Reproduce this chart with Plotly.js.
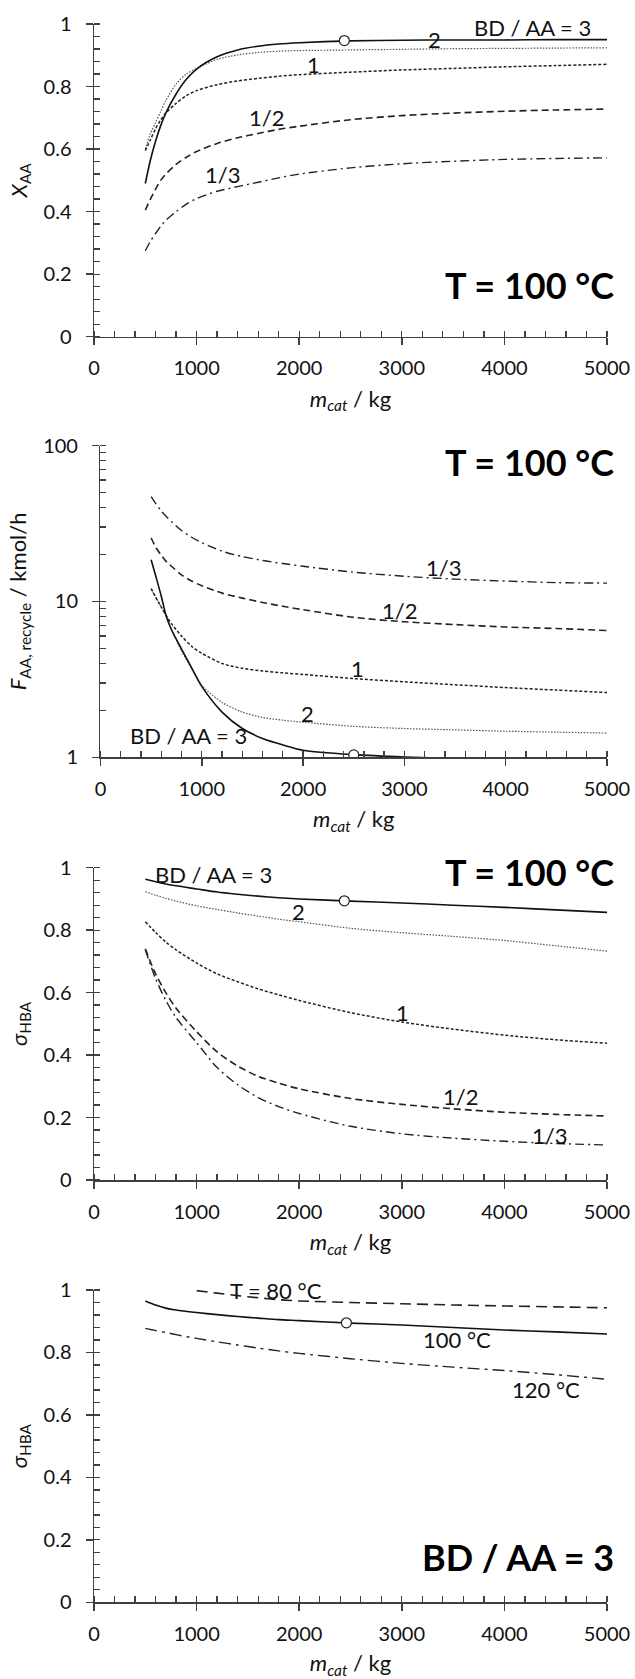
<!DOCTYPE html>
<html>
<head>
<meta charset="utf-8">
<script src="https://cdn.plot.ly/plotly-3.0.1.min.js"></script>
<style>
html,body{margin:0;padding:0;background:#fff;}
#chart{width:635px;height:1679px;}
</style>
</head>
<body>
<div id="chart"></div>
<script>
// ---------- data ----------
const mcatA = [500, 550, 600, 650, 700, 800, 900, 1000, 1200, 1400, 1600, 1800, 2000, 2500, 3000, 3500, 4000, 4500, 5000];
// Panel 1: X_AA at T = 100 °C
const xaa_r3  = [0.49, 0.565, 0.625, 0.675, 0.715, 0.776, 0.823, 0.856, 0.895, 0.917, 0.929, 0.936, 0.94, 0.946, 0.948, 0.949, 0.949, 0.95, 0.95];
const xaa_r2  = [0.60, 0.65, 0.685, 0.72, 0.755, 0.808, 0.84, 0.858, 0.887, 0.901, 0.909, 0.913, 0.915, 0.917, 0.919, 0.921, 0.922, 0.923, 0.924];
const xaa_r1  = [0.595, 0.63, 0.665, 0.693, 0.715, 0.746, 0.771, 0.787, 0.806, 0.818, 0.826, 0.833, 0.838, 0.846, 0.853, 0.858, 0.863, 0.867, 0.871];
const xaa_r12 = [0.405, 0.44, 0.472, 0.50, 0.52, 0.551, 0.574, 0.592, 0.618, 0.636, 0.65, 0.663, 0.673, 0.694, 0.707, 0.715, 0.721, 0.725, 0.728];
const xaa_r13 = [0.275, 0.305, 0.33, 0.353, 0.372, 0.40, 0.424, 0.442, 0.465, 0.48, 0.494, 0.508, 0.52, 0.54, 0.553, 0.561, 0.567, 0.57, 0.572];
// Panel 2: F_AA,recycle / kmol/h at T = 100 °C
const frec_r3  = [18.5, 14.2, 10.8, 8.0, 6.6, 4.95, 3.75, 2.85, 1.95, 1.53, 1.32, 1.2, 1.11, 1.04, 1.005, 0.985, 0.975, 0.965, 0.955];
const frec_r2  = [12, 10.5, 9.2, 8.0, 6.6, 4.8, 3.7, 2.9, 2.25, 1.95, 1.8, 1.73, 1.68, 1.58, 1.53, 1.5, 1.47, 1.45, 1.43];
const frec_r1  = [12.1, 10.5, 9.2, 8.1, 7.2, 6.0, 5.15, 4.65, 4.0, 3.72, 3.58, 3.48, 3.4, 3.2, 3.05, 2.92, 2.8, 2.7, 2.6];
const frec_r12 = [25.5, 22, 19.8, 18, 16.8, 14.8, 13.5, 12.6, 11.3, 10.5, 9.85, 9.3, 8.85, 7.9, 7.4, 7.1, 6.85, 6.7, 6.5];
const frec_r13 = [47, 42, 38, 35, 32.5, 28.5, 25.8, 23.8, 21, 19.4, 18.3, 17.5, 16.8, 15.4, 14.5, 13.9, 13.5, 13.2, 13.1];
// Panel 3: sigma_HBA at T = 100 °C
const mcatB = [500, 600, 700, 800, 1000, 1200, 1400, 1600, 1800, 2000, 2500, 3000, 3500, 4000, 4500, 5000];
const sig_r3  = [0.963, 0.955, 0.948, 0.942, 0.932, 0.922, 0.915, 0.909, 0.904, 0.90, 0.893, 0.887, 0.88, 0.873, 0.865, 0.857];
const sig_r2  = [0.923, 0.912, 0.902, 0.893, 0.878, 0.866, 0.855, 0.845, 0.835, 0.827, 0.806, 0.792, 0.78, 0.767, 0.75, 0.733];
const sig_r1  = [0.827, 0.793, 0.762, 0.737, 0.695, 0.66, 0.635, 0.612, 0.593, 0.575, 0.536, 0.506, 0.483, 0.464, 0.449, 0.438];
const sig_r12 = [0.74, 0.66, 0.60, 0.55, 0.475, 0.41, 0.365, 0.332, 0.31, 0.292, 0.261, 0.242, 0.228, 0.217, 0.21, 0.205];
const sig_r13 = [0.737, 0.645, 0.575, 0.52, 0.44, 0.36, 0.305, 0.264, 0.235, 0.213, 0.172, 0.148, 0.134, 0.124, 0.117, 0.112];
// Panel 4: sigma_HBA at BD/AA = 3
const mcat80 = [1000, 1200, 1400, 1600, 1800, 2000, 2500, 3000, 3500, 4000, 4500, 5000];
const sig_T80  = [0.998, 0.99, 0.982, 0.975, 0.969, 0.965, 0.96, 0.956, 0.952, 0.949, 0.946, 0.943];
const sig_T100 = [0.965, 0.952, 0.942, 0.936, 0.928, 0.921, 0.915, 0.91, 0.905, 0.902, 0.894, 0.888, 0.88, 0.872, 0.866, 0.859];
const sig_T120 = [0.877, 0.87, 0.864, 0.857, 0.845, 0.834, 0.824, 0.814, 0.805, 0.797, 0.78, 0.765, 0.753, 0.742, 0.729, 0.714];
// highlighted operating points (open circles)
const opX = [2440, 2500, 2440, 2460];
const opY = [0.947, 1.035, 0.894, 0.895];
// curve labels
const ratioLabels = ['BD / AA = 3', '2', '1', '1/2', '1/3'];
const tempLabels = ['T = 80 °C', '100 °C', '120 °C'];
const panelTags = ['T = 100 °C', 'T = 100 °C', 'T = 100 °C', 'BD / AA = 3'];

// ---------- styling ----------
const FAM = 'Lato, "Open Sans", "Liberation Sans", sans-serif';
const AX = '#404040';
const styles = {
  r3:  {color: '#111', width: 1.6, dash: 'solid'},
  r2:  {color: '#555', width: 1.2, dash: '1.5px,1.5px'},
  r1:  {color: '#222', width: 1.5, dash: '3px,2px'},
  r12: {color: '#222', width: 1.6, dash: '7px,4px'},
  r13: {color: '#222', width: 1.4, dash: '9px,4px,2px,4px'},
  T80: {color: '#222', width: 1.6, dash: '11px,6px'},
  T120:{color: '#222', width: 1.4, dash: '12px,5px,3px,5px'}
};

function line(x, y, st, xa, ya) {
  return {x: x, y: y, xaxis: xa, yaxis: ya, type: 'scatter', mode: 'lines',
    line: Object.assign({shape: 'spline', smoothing: 0.8}, st), hoverinfo: 'skip', showlegend: false};
}
function marker(i, xa, ya) {
  return {x: [opX[i]], y: [opY[i]], xaxis: xa, yaxis: ya, type: 'scatter', mode: 'markers',
    marker: {symbol: 'circle', size: 10, color: '#fff', line: {color: '#222', width: 1.2}},
    showlegend: false, hoverinfo: 'skip'};
}

const traces = [
  line(mcatA, xaa_r2, styles.r2, 'x', 'y'),
  line(mcatA, xaa_r1, styles.r1, 'x', 'y'),
  line(mcatA, xaa_r12, styles.r12, 'x', 'y'),
  line(mcatA, xaa_r13, styles.r13, 'x', 'y'),
  line(mcatA, xaa_r3, styles.r3, 'x', 'y'),
  marker(0, 'x', 'y'),

  line(mcatA, frec_r2, styles.r2, 'x2', 'y2'),
  line(mcatA, frec_r1, styles.r1, 'x2', 'y2'),
  line(mcatA, frec_r12, styles.r12, 'x2', 'y2'),
  line(mcatA, frec_r13, styles.r13, 'x2', 'y2'),
  line(mcatA, frec_r3, styles.r3, 'x2', 'y2'),
  marker(1, 'x2', 'y2'),

  line(mcatB, sig_r2, styles.r2, 'x3', 'y3'),
  line(mcatB, sig_r1, styles.r1, 'x3', 'y3'),
  line(mcatB, sig_r12, styles.r12, 'x3', 'y3'),
  line(mcatB, sig_r13, styles.r13, 'x3', 'y3'),
  line(mcatB, sig_r3, styles.r3, 'x3', 'y3'),
  marker(2, 'x3', 'y3'),

  line(mcat80, sig_T80, styles.T80, 'x4', 'y4'),
  line(mcatB, sig_T120, styles.T120, 'x4', 'y4'),
  line(mcatB, sig_T100, styles.r3, 'x4', 'y4'),
  marker(3, 'x4', 'y4')
];

const H = 1679;
function ydom(topPx, botPx) { return [1 - botPx / H, 1 - topPx / H]; }

const tickFont = {family: FAM, size: 20, color: '#111'};
const titleFont = {family: FAM, size: 22, color: '#111'};

function xcfg(anchor, dom) {
  return {
    domain: dom, anchor: anchor, range: [0, 5000], tick0: 0, dtick: 1000,
    ticks: 'outside', ticklen: 7, tickwidth: 1.5, tickcolor: AX,
    showline: true, linecolor: AX, linewidth: 1.5, showgrid: false, zeroline: false,
    tickfont: tickFont, ticklabelstandoff: 6,
    minor: {dtick: 200, ticks: 'inside', ticklen: 6, tickwidth: 1.3, tickcolor: AX, showgrid: false},
    title: {text: '<i>m</i><sub><i>cat</i></sub> / kg', font: titleFont, standoff: 13},
    fixedrange: true
  };
}
function ycfg(anchor, dom, title) {
  return {
    domain: dom, anchor: anchor, range: [0, 1], tick0: 0, dtick: 0.2,
    ticks: 'outside', ticklen: 7, tickwidth: 1.5, tickcolor: AX,
    showline: true, linecolor: AX, linewidth: 1.5, showgrid: false, zeroline: false,
    tickfont: tickFont, ticklabelstandoff: 10,
    minor: {dtick: 0.04, ticks: 'inside', ticklen: 6, tickwidth: 1.3, tickcolor: AX, showgrid: false},
    title: {text: title, font: titleFont, standoff: 10},
    fixedrange: true
  };
}

const yLog = ycfg('x2', ydom(445.5, 757.3), '<i>F</i><sub>AA, recycle</sub> / kmol/h');
yLog.type = 'log'; yLog.range = [0, 2]; yLog.dtick = 1; delete yLog.tick0;
yLog.minor = {dtick: 'D1', ticks: 'inside', ticklen: 6, tickwidth: 1.3, tickcolor: AX, showgrid: false};

const xdomMain = [0, 1];
const xdomLog = [6.5 / 513.5, 1];

function lab(text, x, y, xr, yr) {
  return {text: text, x: x, y: y, xref: xr, yref: yr, showarrow: false,
    font: {family: FAM, size: 22, color: '#111'}, xanchor: 'center', yanchor: 'middle'};
}
// big panel tags, placed in paper coordinates (right edge ~616 px)
const tagX = (616 - 93.5) / 513.5;
function tag(text, yPx) {
  return {text: '<b>' + text + '</b>', x: tagX, y: 1 - yPx / H, xref: 'paper', yref: 'paper', showarrow: false,
    font: {family: FAM, size: 36, color: '#000'}, xanchor: 'right', yanchor: 'middle'};
}

const annotations = [
  // panel 1
  lab(ratioLabels[0], 4275, 0.99, 'x', 'y'),
  lab(ratioLabels[1], 3320, 0.949, 'x', 'y'),
  lab(ratioLabels[2], 2135, 0.871, 'x', 'y'),
  lab(ratioLabels[3], 1685, 0.70, 'x', 'y'),
  lab(ratioLabels[4], 1257, 0.52, 'x', 'y'),
  tag(panelTags[0], 285),
  // panel 2 (log axis: y given as log10 value)
  lab(ratioLabels[4], 3390, Math.log10(16.6), 'x2', 'y2'),
  lab(ratioLabels[3], 2950, Math.log10(8.7), 'x2', 'y2'),
  lab(ratioLabels[2], 2540, Math.log10(3.7), 'x2', 'y2'),
  lab(ratioLabels[1], 2040, Math.log10(1.91), 'x2', 'y2'),
  lab(ratioLabels[0], 870, Math.log10(1.39), 'x2', 'y2'),
  tag(panelTags[1], 462),
  // panel 3
  lab(ratioLabels[0], 1160, 0.977, 'x3', 'y3'),
  lab(ratioLabels[1], 1995, 0.859, 'x3', 'y3'),
  lab(ratioLabels[2], 3010, 0.536, 'x3', 'y3'),
  lab(ratioLabels[3], 3570, 0.267, 'x3', 'y3'),
  lab(ratioLabels[4], 4435, 0.144, 'x3', 'y3'),
  tag(panelTags[2], 872),
  // panel 4
  lab(tempLabels[0], 1770, 0.998, 'x4', 'y4'),
  lab(tempLabels[1], 3540, 0.84, 'x4', 'y4'),
  lab(tempLabels[2], 4410, 0.68, 'x4', 'y4'),
  tag(panelTags[3], 1557)
];

const layout = {
  width: 635, height: 1679,
  margin: {l: 93.5, r: 28, t: 0, b: 0},
  paper_bgcolor: '#fff', plot_bgcolor: '#fff',
  font: {family: FAM, color: '#111'},
  showlegend: false,
  xaxis: xcfg('y', xdomMain),
  yaxis: ycfg('x', ydom(24, 336.7), '<i>X</i><sub>AA</sub>'),
  xaxis2: xcfg('y2', xdomLog),
  yaxis2: yLog,
  xaxis3: xcfg('y3', xdomMain),
  yaxis3: ycfg('x3', ydom(867.7, 1180), '<i>σ</i><sub>HBA</sub>'),
  xaxis4: xcfg('y4', xdomMain),
  yaxis4: ycfg('x4', ydom(1290, 1602.3), '<i>σ</i><sub>HBA</sub>'),
  annotations: annotations
};

Plotly.newPlot('chart', traces, layout, {staticPlot: true, displayModeBar: false});
</script>
</body>
</html>
